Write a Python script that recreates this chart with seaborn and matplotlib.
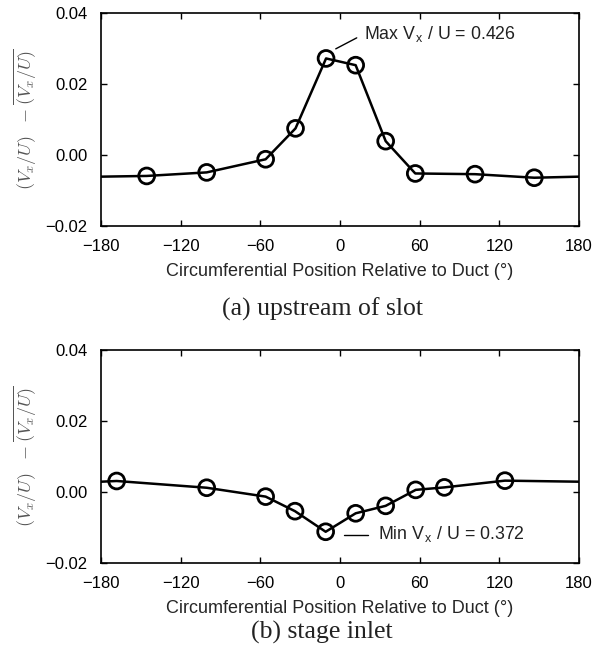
import matplotlib
matplotlib.use("Agg")
import matplotlib.pyplot as plt
import seaborn as sns
import numpy as np
import pandas as pd

# ---- data ----
pos_a = [-145.6, -100.4, -56.0, -33.5, -10.5, 11.8, 34.4, 56.7, 101.7, 146.3]
val_a = [-0.0059, -0.0049, -0.0012, 0.0075, 0.0272, 0.0253, 0.0039, -0.0052, -0.0054, -0.0064]
edge_a = -0.0061  # periodic value at +/-180

pos_b = [-168.2, -100.4, -56.0, -33.9, -10.8, 11.8, 34.4, 57.0, 78.6, 124.2]
val_b = [0.0031, 0.0012, -0.0013, -0.0054, -0.0112, -0.0060, -0.0039, 0.0006, 0.0013, 0.0032]
edge_b = 0.0029

xticks = [-180, -120, -60, 0, 60, 120, 180]
yticks = [-0.02, 0.00, 0.02, 0.04]
ytick_labels = ["\u22120.02", "0.00", "0.02", "0.04"]
captions = ["(a) upstream of slot", "(b) stage inlet"]
notes = [r"Max V$_\mathregular{x}$ / U = 0.426", r"Min V$_\mathregular{x}$ / U = 0.372"]

sns.set_theme(style="ticks")
plt.rcParams["font.family"] = ["Liberation Sans", "DejaVu Sans"]
plt.rcParams["mathtext.fontset"] = "cm"

W, H = 592, 662
fig = plt.figure(figsize=(W / 100, H / 100), dpi=100)

def px_axes(x0, y0, x1, y1):
    return fig.add_axes([x0 / W, 1 - y1 / H, (x1 - x0) / W, (y1 - y0) / H])

ax_a = px_axes(101, 13, 579, 226)
ax_b = px_axes(101, 350, 579, 563)

ylabel = r"$(V_x/U)\ \ -\overline{(V_x/U)}$"

def draw(ax, pos, val, edge, caption, cap_y):
    line_df = pd.DataFrame({"x": [-180] + pos + [180], "y": [edge] + val + [edge]})
    pts_df = pd.DataFrame({"x": pos, "y": val})
    sns.lineplot(data=line_df, x="x", y="y", ax=ax, color="black", lw=1.8, sort=True)
    sns.scatterplot(data=pts_df, x="x", y="y", ax=ax, marker="o", s=130,
                    facecolor="none", edgecolor="black", linewidth=2.0, zorder=5)
    ax.set_xlim(-180, 180)
    ax.set_ylim(-0.02, 0.04)
    ax.set_xticks(xticks)
    ax.set_xticklabels([str(t).replace("-", "\u2212") for t in xticks])
    ax.set_yticks(yticks)
    ax.set_yticklabels(ytick_labels)
    ax.tick_params(direction="in", top=True, right=True, length=4, width=1,
                   labelsize=12, pad=9.5, colors="black")
    for s in ax.spines.values():
        s.set_linewidth(1.2)
        s.set_color("black")
    ax.set_xlabel("Circumferential Position Relative to Duct (\u00b0)", fontsize=13, labelpad=6)
    ax.set_ylabel(ylabel, fontsize=13, color="#555555", labelpad=5)
    fig.text(322 / W, 1 - cap_y / H, caption, ha="center", va="center",
             fontsize=18.5, family="Liberation Serif", color="#222222")

draw(ax_a, pos_a, val_a, edge_a, captions[0], 309)
draw(ax_b, pos_b, val_b, edge_b, captions[1], 632)

# annotations
ax_a.plot([-3.2, 12.6], [0.0299, 0.0330], color="black", lw=1)
ax_a.text(18, 0.0338, notes[0], fontsize=12.8, va="center", ha="left", color="#222222")
ax_b.plot([3, 21], [-0.0121, -0.0121], color="black", lw=1)
ax_b.text(28.6, -0.0121, notes[1], fontsize=12.8, va="center", ha="left", color="#222222")

fig.savefig("out.png", dpi=100)
